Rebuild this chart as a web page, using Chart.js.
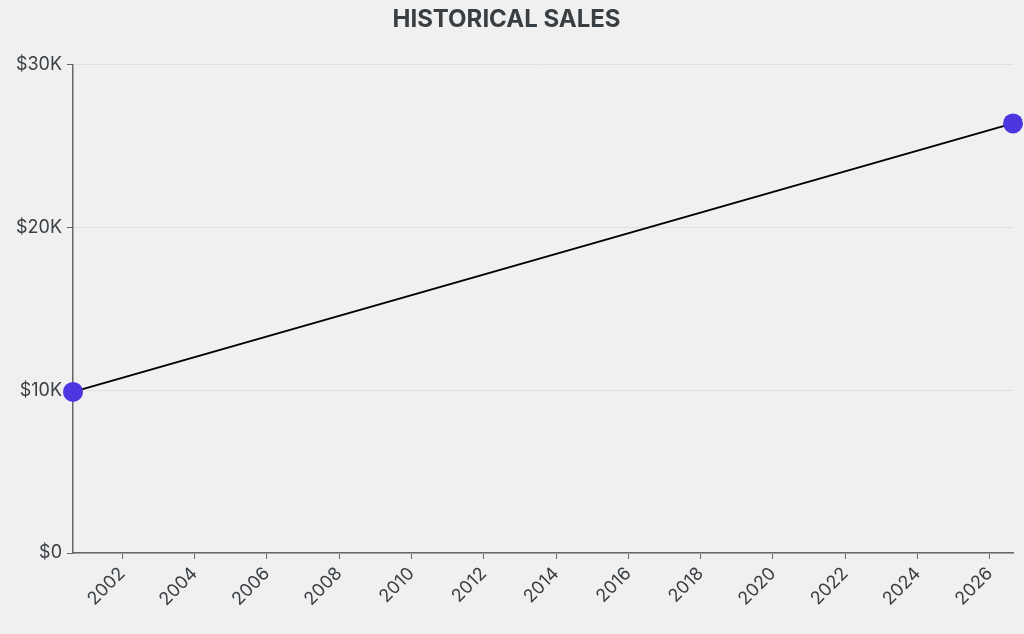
<!DOCTYPE html>
<html>
<head>
<meta charset="utf-8">
<script src="https://cdn.jsdelivr.net/npm/chart.js@4"></script>
<style>
  html, body { margin: 0; padding: 0; background: #f0f0f0; }
  #wrap { width: 1024px; height: 634px; }
</style>
</head>
<body>
<div id="wrap"><canvas id="salesChart"></canvas></div>
<script>
// data
var years = [2000.64, 2026.64];
var sales = [9900, 26400];
var yearTicks = [2002, 2004, 2006, 2008, 2010, 2012, 2014, 2016, 2018, 2020, 2022, 2024, 2026];
var salesTicks = [0, 10000, 20000, 30000];

var points = years.map(function(y, i) {
	return { x: y, y: sales[i] };
});

var ctx = document.getElementById('salesChart');
var salesChart = new Chart(ctx, {
	type : 'line',
	data : {
		datasets : [{
			label : 'Sales',
			data : points,
			borderColor : '#000000',
			borderWidth : 2,
			pointRadius : 10,
			pointHoverRadius : 10,
			pointBackgroundColor : '#4b36e0',
			pointBorderWidth : 0,
			clip : false
		}]
	},
	options : {
		responsive : true,
		maintainAspectRatio : false,
		animation : false,
		layout : { padding : { left : 0, right : 11, top : 0, bottom : 0 } },
		plugins : {
			legend : { display : false },
			tooltip : { enabled : false },
			title : {
				display : true,
				text : 'HISTORICAL SALES',
				color : '#393e42',
				font : { family : 'Inter', size : 24, weight : 'bold' },
				padding : { top : 5, bottom : 31 }
			}
		},
		scales : {
			x : {
				type : 'linear',
				min : years[0],
				max : years[years.length - 1],
				afterBuildTicks : function(scale) {
					scale.ticks = yearTicks.map(function(v) { return { value : v }; });
				},
				afterFit : function(scale) {
					scale.height = 81;
					scale.paddingLeft = 0;
					scale.paddingRight = 0;
				},
				ticks : {
					color : '#3a3f44',
					font : { family : 'Inter', size : 18 },
					minRotation : 45,
					maxRotation : 45,
					padding : 4,
					callback : function(v) { return String(v); }
				},
				grid : {
					drawOnChartArea : false,
					tickColor : '#666666',
					tickLength : 6
				},
				border : { color : '#666666', width : 1.5 }
			},
			y : {
				min : 0,
				max : 30000,
				afterBuildTicks : function(scale) {
					scale.ticks = salesTicks.map(function(v) { return { value : v }; });
				},
				afterFit : function(scale) {
					scale.width = 73;
				},
				ticks : {
					color : '#3a3f44',
					font : { family : 'Inter', size : 18 },
					padding : 5,
					callback : function(v) {
						return v === 0 ? '$0' : '$' + (v / 1000) + 'K';
					}
				},
				grid : {
					color : '#e0e0e0',
					tickColor : '#666666',
					tickLength : 6
				},
				border : { color : '#666666', width : 1.5 }
			}
		}
	}
});
</script>
</body>
</html>
